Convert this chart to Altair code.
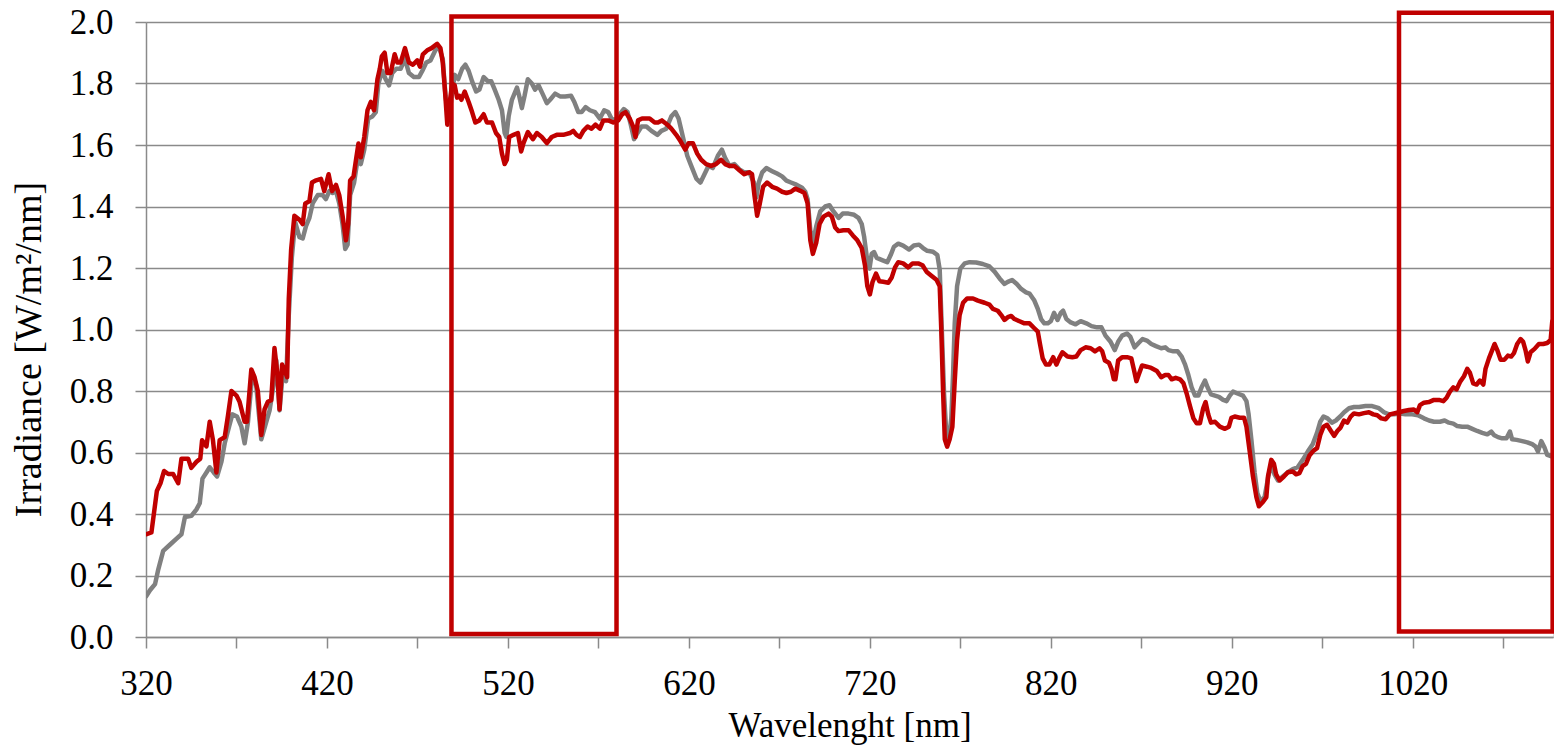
import altair as alt
import pandas as pd

# ---- data ----
red_wl = [320, 323, 326, 328, 330, 332.3, 335, 337.8, 339.6, 343.3, 345, 347.9, 350, 351, 353.4, 355.2, 357, 358.9,
          360.7, 363.5, 365.3, 367.2, 370, 371.7, 374.5, 375.8, 378.2, 380, 381.8, 383.7, 385.5, 387.3, 389.2, 391,
          392.5, 393.8, 395.2, 396.5, 398, 398.9, 400.2, 402, 404.8, 406.6, 408, 410.3, 411.7, 414, 416.7, 418.5,
          420.9, 422.8, 425, 426.8, 428.6, 430.5, 431.7, 432.8, 434.7, 436, 437.4, 438.7, 440.6, 442.4, 444.2, 446,
          447.9, 449.2, 450.3, 451.9, 453.4, 455.2, 457.4, 458.9, 460.7, 463.1, 465.3, 467.5, 469.9, 471.4, 473,
          475.4, 477.8, 480.9, 482.7, 484, 485.3, 486.5, 487.7, 489.2, 490.6, 491.9, 493.2, 494.3, 496.1, 498.3,
          500.2, 502, 504.2, 506.6, 508.4, 511.2, 513.4, 515.2, 516.7, 518.2, 519.4, 520.7, 523.1, 525.5, 527.3,
          528.6, 531, 533.8, 536, 538.7, 541.5, 544.2, 547, 550.6, 554.3, 556.1, 557.9, 559.8, 561.7, 564, 566.2,
          568.4, 570.8, 572.7, 575.4, 578.2, 581, 583.1, 585, 587.3, 589.2, 590.5, 591.9, 594.1, 596.5, 598.3,
          601.1, 602.9, 605.1, 608.1, 610.3, 613, 615.4, 618, 619.8, 622.2, 624.6, 626.8, 629.5, 632.3, 635, 637.8,
          640, 642.4, 645.1, 647.9, 650.6, 653.4, 654.9, 656.2, 657.7, 659.2, 661, 663.2, 666, 668.7, 671.5, 673.9,
          676.4, 678.8, 681.6, 683.8, 685.6, 687.1, 688.5, 690.4, 692.2, 694.4, 697.2, 699, 700.8, 702.7, 705.4,
          708.2, 710.6, 713.1, 715.5, 717.3, 718.6, 720, 721.5, 723.4, 725.2, 727.4, 730.2, 732, 733.9, 735.7,
          738.4, 741.2, 743.6, 746.7, 749.1, 751.3, 754, 756.8, 758.6, 759.5, 760.5, 761.4, 762.7, 764.1, 765.6,
          766.9, 768.2, 769.6, 771.5, 773.7, 777, 779.7, 783.4, 786.1, 788, 790.7, 792.6, 794.4, 796.2, 798.1,
          799.9, 802.7, 805.4, 808.2, 810.9, 812.8, 814, 815.5, 817.3, 819.2, 821.3, 823.1, 824.6, 826.4, 829.2,
          831.9, 834.1, 836.5, 839.2, 842, 844.4, 846.9, 848.4, 849.9, 852.1, 853.5, 854.8, 855.7, 857.2, 859.4,
          862.1, 864.5, 865.8, 867.3, 868.5, 870.4, 873.1, 875.5, 878.6, 881, 883.2, 885, 886.8, 889, 891.4, 893.3,
          895.1, 896.9, 898.8, 900.6, 902.4, 904.2, 905.5, 907, 908.5, 910.7, 913.4, 916.2, 918.4, 919.8, 921.6,
          924.4, 926.8, 928.1, 929.9, 931.7, 933.6, 935, 937.2, 939.1, 940, 941.8, 943.3, 944.5, 946.4, 948.8, 951,
          953.7, 955.5, 957.4, 959.2, 961, 962.9, 965.2, 967.1, 968.9, 970.7, 972.6, 974.8, 976.6, 978.3, 980.1,
          982, 983.8, 985.7, 987.5, 990.3, 993, 995.8, 998.2, 1000.4, 1002.6, 1005, 1007.4, 1009.6, 1012.4, 1015.1,
          1017.9, 1020.6, 1022.5, 1024, 1026.2, 1028.9, 1031.7, 1034.5, 1036.9, 1038.7, 1040.5, 1042.4, 1044.2,
          1046.1, 1048.3, 1050.1, 1051.6, 1053.4, 1055.3, 1057.1, 1059, 1060.2, 1062.1, 1063.9, 1065.2, 1066.7,
          1068.5, 1070.7, 1072.6, 1074.4, 1075.9, 1077.7, 1079.6, 1081, 1082.3, 1083.6, 1085.1, 1087.3, 1089.7,
          1092.1, 1094.3, 1096.2, 1097.1]
red_val = [0.334, 0.34, 0.475, 0.5, 0.54, 0.53, 0.53, 0.5, 0.58, 0.58, 0.55, 0.57, 0.58, 0.64, 0.62, 0.7, 0.64, 0.535,
           0.64, 0.65, 0.72, 0.8, 0.785, 0.765, 0.7, 0.7, 0.87, 0.845, 0.8, 0.657, 0.74, 0.765, 0.77, 0.94,
           0.86, 0.74, 0.886, 0.87, 0.845, 1.1, 1.26, 1.37, 1.357, 1.343, 1.41, 1.417, 1.478, 1.485, 1.49, 1.45,
           1.505, 1.45, 1.47, 1.437, 1.37, 1.29, 1.343, 1.485, 1.498, 1.55, 1.605, 1.56, 1.626, 1.713, 1.74, 1.713,
           1.814, 1.848, 1.888, 1.9, 1.834, 1.834, 1.895, 1.868, 1.868, 1.915, 1.868, 1.861, 1.875, 1.855, 1.895,
           1.908, 1.915, 1.929, 1.915, 1.868, 1.77, 1.666, 1.733, 1.8, 1.794, 1.754, 1.76, 1.747, 1.774, 1.74,
           1.707, 1.673, 1.68, 1.7, 1.673, 1.673, 1.639, 1.626, 1.572, 1.538, 1.552, 1.626, 1.633, 1.639, 1.579,
           1.606, 1.642, 1.619, 1.639, 1.626, 1.606, 1.626, 1.633, 1.633, 1.639, 1.646, 1.633, 1.626, 1.646, 1.66,
           1.653, 1.666, 1.653, 1.68, 1.68, 1.673, 1.68, 1.7, 1.707, 1.686, 1.66, 1.626, 1.68, 1.686, 1.686, 1.686,
           1.673, 1.673, 1.68, 1.666, 1.653, 1.633, 1.612, 1.585, 1.606, 1.606, 1.572, 1.552, 1.538, 1.532, 1.538,
           1.552, 1.538, 1.532, 1.532, 1.518, 1.505, 1.511, 1.505, 1.437, 1.37, 1.41, 1.464, 1.478, 1.464, 1.458,
           1.448, 1.444, 1.448, 1.458, 1.451, 1.444, 1.41, 1.29, 1.246, 1.283, 1.343, 1.367, 1.377, 1.367, 1.332,
           1.32, 1.323, 1.323, 1.306, 1.29, 1.265, 1.209, 1.141, 1.114, 1.155, 1.182, 1.157, 1.155, 1.152, 1.168,
           1.202, 1.219, 1.215, 1.202, 1.215, 1.215, 1.209, 1.188, 1.175, 1.162, 1.141, 0.993, 0.791, 0.643, 0.619,
           0.643, 0.684, 0.832, 0.966, 1.047, 1.087, 1.101, 1.101, 1.094, 1.087, 1.081, 1.067, 1.061, 1.047, 1.031,
           1.04, 1.044, 1.034, 1.027, 1.02, 1.02, 1.004, 0.993, 0.953, 0.906, 0.886, 0.886, 0.91, 0.886, 0.906,
           0.926, 0.912, 0.91, 0.912, 0.933, 0.942, 0.939, 0.929, 0.939, 0.929, 0.899, 0.892, 0.872, 0.838, 0.838,
           0.899, 0.91, 0.91, 0.906, 0.872, 0.832, 0.852, 0.883, 0.879, 0.875, 0.865, 0.845, 0.852, 0.852, 0.838,
           0.843, 0.838, 0.825, 0.791, 0.751, 0.711, 0.695, 0.695, 0.744, 0.764, 0.724, 0.697, 0.7, 0.684, 0.677,
           0.684, 0.713, 0.717, 0.713, 0.713, 0.684, 0.603, 0.522, 0.455, 0.425, 0.439, 0.455, 0.522, 0.576, 0.563,
           0.529, 0.509, 0.522, 0.536, 0.538, 0.529, 0.533, 0.556, 0.563, 0.59, 0.606, 0.614, 0.657, 0.684, 0.69,
           0.67, 0.654, 0.67, 0.681, 0.704, 0.697, 0.717, 0.727, 0.724, 0.728, 0.731, 0.724, 0.721, 0.711, 0.708,
           0.724, 0.727, 0.731, 0.735, 0.738, 0.74, 0.731, 0.754, 0.762, 0.764, 0.771, 0.771, 0.767, 0.778, 0.798,
           0.812, 0.805, 0.829, 0.848, 0.872, 0.859, 0.825, 0.821, 0.834, 0.821, 0.872, 0.906, 0.933, 0.953, 0.933,
           0.902, 0.902, 0.915, 0.912, 0.923, 0.953, 0.969, 0.96, 0.933, 0.896, 0.926, 0.937, 0.953, 0.953, 0.956,
           0.966, 1.027]

gray_wl = [320, 322.2, 325, 326.8, 329.5, 333.2, 336.9, 339.6, 341.5, 345.1, 347.9, 349.7, 351.2, 353.4, 355.2,
           357.4, 359.3, 361.7, 363.5, 365.9, 367.7, 370.3, 372.7, 374.5, 376.3, 378.7, 380.9, 382.4, 383.7, 386,
           388.3, 390.1, 392, 393.8, 395.6, 397.4, 398.9, 400.6, 402.4, 404.8, 406.6, 408.4, 410.3, 412.1, 414.9,
           417.6, 419.4, 421.3, 423.1, 425, 426.8, 428.6, 430.1, 431.4, 432.8, 435, 436.9, 438.7, 440.6, 442.8,
           445.1, 447, 448.4, 450.6, 452.4, 454.3, 456.1, 458.3, 460.7, 463.1, 465.3, 468, 470.8, 472.6, 474.9,
           477.2, 479.9, 481.8, 484, 485.5, 487.3, 489.2, 490.6, 492.5, 494.7, 496.5, 498.3, 500.2, 502.4, 504.2,
           506.6, 509, 510.8, 512.7, 514.9, 516.7, 518.2, 519.1, 520.4, 522.2, 525, 526.2, 527.7, 529.2, 531,
           533.2, 535, 536.9, 539.1, 541.5, 543.3, 546.1, 548.8, 551.6, 554.9, 556.7, 558.9, 560.7, 562.9, 565.3,
           568.1, 570.8, 573.2, 575.4, 577.2, 579.1, 581.8, 584, 586.1, 587.9, 589.7, 591.6, 593.8, 596.5, 599.3,
           602.6, 604.8, 607.5, 610.3, 612.5, 614.3, 616.7, 619.1, 621.3, 624.1, 626.4, 628.6, 630.8, 633.2, 636,
           638.2, 640, 642.4, 645.1, 647.9, 650.6, 653.4, 655.9, 657.3, 658.6, 660.5, 662.8, 666, 668.7, 671.5,
           673.9, 676.4, 679.4, 682.5, 684.3, 685.6, 687.1, 688.5, 690.4, 692.6, 695.3, 697.7, 699.9, 702.7, 705,
           708.2, 711.3, 713.7, 715.5, 716.8, 718.3, 719.8, 721, 722.3, 723.8, 727.1, 729.6, 731.5, 733.3, 735.7,
           738.4, 741.7, 744.3, 747.2, 749.4, 751.7, 754.9, 757.3, 758.6, 759.8, 761, 762.3, 763.6, 765, 766,
           766.9, 768.2, 770, 772.4, 775.1, 778.8, 782.4, 786.1, 788.9, 791.7, 794.4, 796.2, 798.6, 801.2, 803.6,
           806.3, 808.2, 810.9, 812.8, 814.6, 816.4, 818.3, 820, 821.8, 823.7, 825.5, 826.8, 828.6, 831, 833.7,
           836.5, 839.6, 842.5, 845.6, 848, 850.2, 853, 855.3, 857.2, 859.4, 862.1, 863.9, 866.3, 868.5, 870.7,
           873.1, 875.5, 878.1, 881, 883.2, 885, 887.7, 890.1, 892.3, 894.2, 896, 897.8, 899.7, 901.5, 903.3,
           905.2, 906.6, 908.5, 910.7, 912.9, 915.2, 917.1, 918.9, 920.7, 923.5, 926.2, 928.1, 929.3, 930.8, 932.6,
           934.1, 935.9, 938.1, 940, 941.8, 943.6, 945.5, 948.2, 951, 953.7, 956.4, 959.2, 962, 964.7, 967.1,
           968.9, 970.7, 972.9, 975.3, 977.5, 979.9, 982.1, 984.8, 987.6, 990.3, 993.9, 997.6, 1001.3, 1004.1,
           1006.8, 1009.6, 1012.9, 1016, 1019.7, 1022.9, 1026.2, 1029, 1031.7, 1035, 1037.6, 1040, 1042.4, 1044.6,
           1047.3, 1050.1, 1052.9, 1055.6, 1058.4, 1061.2, 1063.4, 1064.8, 1067.1, 1069.4, 1071.8, 1073.7, 1074.9,
           1077.4, 1080.5, 1083.3, 1086, 1087.9, 1089.2, 1091, 1092.8, 1094.3, 1097.1]
gray_val = [0.132, 0.152, 0.172, 0.22, 0.28, 0.3, 0.32, 0.334, 0.39, 0.394, 0.415, 0.435, 0.515, 0.535, 0.552,
            0.535, 0.522, 0.57, 0.63, 0.684, 0.724, 0.717, 0.684, 0.63, 0.697, 0.852, 0.818, 0.724, 0.643, 0.69,
            0.737, 0.805, 0.9, 0.737, 0.858, 0.832, 1.047, 1.235, 1.35, 1.3, 1.296, 1.336, 1.363, 1.41, 1.437,
            1.437, 1.424, 1.45, 1.444, 1.45, 1.41, 1.343, 1.262, 1.276, 1.437, 1.478, 1.552, 1.538, 1.585, 1.686,
            1.693, 1.707, 1.8, 1.841, 1.814, 1.794, 1.834, 1.848, 1.848, 1.88, 1.834, 1.821, 1.821, 1.84, 1.868,
            1.875, 1.908, 1.92, 1.88, 1.76, 1.68, 1.774, 1.828, 1.814, 1.848, 1.861, 1.841, 1.807, 1.774, 1.78,
            1.821, 1.807, 1.807, 1.78, 1.747, 1.713, 1.639, 1.626, 1.693, 1.747, 1.787, 1.76, 1.72, 1.76, 1.814,
            1.8, 1.78, 1.794, 1.767, 1.736, 1.747, 1.767, 1.758, 1.758, 1.76, 1.74, 1.707, 1.707, 1.723, 1.713,
            1.707, 1.686, 1.713, 1.707, 1.686, 1.68, 1.7, 1.717, 1.707, 1.666, 1.619, 1.639, 1.66, 1.66, 1.646,
            1.633, 1.646, 1.653, 1.693, 1.707, 1.686, 1.626, 1.565, 1.532, 1.491, 1.478, 1.505, 1.532, 1.525, 1.565,
            1.585, 1.558, 1.532, 1.538, 1.521, 1.511, 1.511, 1.478, 1.43, 1.478, 1.511, 1.525, 1.515, 1.507, 1.498,
            1.484, 1.478, 1.471, 1.461, 1.448, 1.424, 1.323, 1.283, 1.336, 1.384, 1.4, 1.404, 1.384, 1.363, 1.377,
            1.377, 1.373, 1.363, 1.343, 1.303, 1.236, 1.198, 1.246, 1.252, 1.233, 1.225, 1.219, 1.242, 1.269, 1.279,
            1.273, 1.26, 1.273, 1.276, 1.265, 1.256, 1.253, 1.242, 1.195, 0.993, 0.791, 0.657, 0.637, 0.711, 0.859,
            1.02, 1.141, 1.198, 1.215, 1.219, 1.218, 1.213, 1.205, 1.188, 1.166, 1.148, 1.155, 1.161, 1.148, 1.132,
            1.121, 1.117, 1.094, 1.067, 1.034, 1.02, 1.02, 1.027, 1.054, 1.031, 1.054, 1.061, 1.034, 1.023, 1.017,
            1.027, 1.02, 1.011, 1.007, 1.007, 0.98, 0.96, 0.933, 0.96, 0.98, 0.987, 0.977, 0.942, 0.956, 0.969,
            0.964, 0.953, 0.946, 0.939, 0.942, 0.933, 0.929, 0.929, 0.912, 0.886, 0.852, 0.812, 0.785, 0.785, 0.812,
            0.834, 0.812, 0.789, 0.785, 0.781, 0.771, 0.767, 0.785, 0.798, 0.791, 0.785, 0.767, 0.724, 0.643, 0.536,
            0.468, 0.441, 0.455, 0.516, 0.563, 0.529, 0.509, 0.522, 0.536, 0.546, 0.552, 0.576, 0.603, 0.627, 0.664,
            0.7, 0.717, 0.711, 0.697, 0.704, 0.717, 0.731, 0.744, 0.748, 0.748, 0.751, 0.751, 0.744, 0.731,
            0.724, 0.724, 0.727, 0.724, 0.724, 0.721, 0.711, 0.704, 0.7, 0.7, 0.704, 0.697, 0.694, 0.686,
            0.684, 0.684, 0.677, 0.67, 0.664, 0.659, 0.668, 0.657, 0.65, 0.646, 0.646, 0.668, 0.643,
            0.641, 0.637, 0.633, 0.627, 0.619, 0.603, 0.637, 0.616, 0.592, 0.587]

# highlight boxes (data coordinates)
box_x1 = [488.8, 1012.4]
box_x2 = [580.0, 1097.3]
box_y1 = [0.01, 0.018]
box_y2 = [2.018, 2.03]

x_ticks = [320, 370, 420, 470, 520, 570, 620, 670, 720, 770, 820, 870, 920, 970, 1020, 1070]
y_ticks = [0.0, 0.2, 0.4, 0.6, 0.8, 1.0, 1.2, 1.4, 1.6, 1.8, 2.0]

red_df = pd.DataFrame({"wl": red_wl, "val": red_val})
gray_df = pd.DataFrame({"wl": gray_wl, "val": gray_val})
box_df = pd.DataFrame({"x1": box_x1, "x2": box_x2, "y1": box_y1, "y2": box_y2})

FONT = "Liberation Serif"
AX = "#8a8a8a"

xscale = alt.Scale(domain=[320, 1097.5], nice=False, zero=False)
yscale = alt.Scale(domain=[0, 2], nice=False, zero=False)

xaxis = alt.Axis(
    title="Wavelenght [nm]", values=x_ticks, format="d",
    labelExpr="(datum.value - 320) % 100 == 0 ? datum.label : ''",
    grid=False, tickSize=11, tickColor=AX, tickWidth=1.5, domainColor=AX, domainWidth=1.5,
    labelFont=FONT, labelFontSize=35, labelColor="black", labelPadding=18,
    labelFlush=False, labelOverlap=False,
    titleFont=FONT, titleFontSize=35, titleFontWeight="normal", titleColor="black",
    titleBaseline="alphabetic", titleY=99,
)
yaxis = alt.Axis(
    title="Irradiance [W/m²/nm]", values=y_ticks, format=".1f",
    grid=True, gridColor=AX, gridWidth=1.5,
    tickSize=11, tickColor=AX, tickWidth=1.5, domainColor=AX, domainWidth=1.5,
    labelFont=FONT, labelFontSize=35, labelColor="black", labelPadding=22,
    labelFlush=False, labelOverlap=False,
    titleFont=FONT, titleFontSize=38, titleFontWeight="normal", titleColor="black",
    titleAngle=270, titleBaseline="alphabetic", titleAlign="center", titleX=-106, titleY=327,
)

gray_line = alt.Chart(gray_df).mark_line(
    color="#808080", strokeWidth=4.5, strokeJoin="round", strokeCap="round", clip=True
).encode(
    x=alt.X("wl:Q", scale=xscale, axis=xaxis),
    y=alt.Y("val:Q", scale=yscale, axis=yaxis),
    order="wl:Q",
)
red_line = alt.Chart(red_df).mark_line(
    color="#C00000", strokeWidth=4.5, strokeJoin="round", strokeCap="round", clip=True
).encode(
    x=alt.X("wl:Q", scale=xscale),
    y=alt.Y("val:Q", scale=yscale),
    order="wl:Q",
)
boxes = alt.Chart(box_df).mark_rect(
    filled=False, stroke="#C00000", strokeWidth=4.5
).encode(
    x=alt.X("x1:Q", scale=xscale),
    x2="x2:Q",
    y=alt.Y("y1:Q", scale=yscale),
    y2="y2:Q",
)

chart = alt.layer(gray_line, red_line, boxes).properties(
    width=1407, height=615,
    autosize="none",
    padding={"left": 138, "top": 14, "right": 1, "bottom": 110},
).configure_view(stroke=None).configure(background="white")

chart.save("out.html", embed_options={"renderer": "svg", "actions": False})
